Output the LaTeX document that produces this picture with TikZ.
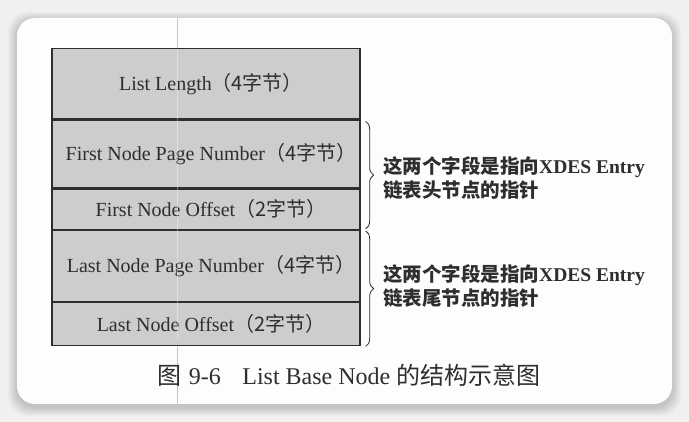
\documentclass[tikz,border=0pt]{standalone}
\usepackage{fontspec}
\setmainfont{Liberation Serif}
\newfontfamily\cjk{Noto Sans CJK SC}
\usetikzlibrary{decorations.pathreplacing}

\definecolor{pagebg}{HTML}{F0F0F0}
\definecolor{cardbg}{HTML}{FDFDFD}
\definecolor{cellfill}{HTML}{CDCDCD}
\definecolor{ink}{HTML}{2E2E2E}

\newcommand{\zh}[1]{{\cjk #1}}

\begin{document}
\begin{tikzpicture}[x=1pt,y=-1pt,
  cell/.style={draw=ink, line width=1.3pt, fill=cellfill, minimum width=308pt,
    anchor=north, inner sep=0pt, text=ink, font=\fontsize{20}{22}\selectfont,
    execute at begin node={\hspace{0.5em}}},
  note/.style={anchor=west, align=left, inner sep=0pt, text=ink,
    font=\bfseries\fontsize{19.5}{24}\selectfont},
  bracket/.style={decorate, decoration={brace, amplitude=8pt}, draw=ink, line width=0.8pt},
  caption/.style={text=ink, inner sep=0pt, font=\fontsize{24}{28}\selectfont},
]
% page and card with a soft shadow
\useasboundingbox (0,0) rectangle (689,422);
\fill[pagebg] (0,0) rectangle (689,422);
\foreach \d in {1,...,9}
  \fill[black, opacity=0.02, rounded corners=20pt]
    (17-\d,18-\d+3) rectangle (672+\d,404+\d+3);
\fill[cardbg, rounded corners=18pt] (17,18) rectangle (672,404);

% faint crease through the page
\draw[black!22, line width=0.8pt] (177,18) -- (177,404);

% the record layout
\node[cell, minimum height=70pt] (len) at (206,48) {List Length\zh{（4字节）}};
\node[cell, minimum height=68pt] (fpage) at (len.south) {First Node Page Number\zh{（4字节）}};
\node[cell, minimum height=40pt] (foff) at (fpage.south) {First Node Offset\zh{（2字节）}};
\node[cell, minimum height=71pt] (lpage) at (foff.south) {Last Node Page Number\zh{（4字节）}};
\node[cell, minimum height=43pt] (loff) at (lpage.south) {Last Node Offset\zh{（2字节）}};

\draw[white, opacity=0.35, line width=0.8pt] (177,49) -- (177,339);

% braces grouping the two pointers
\draw[bracket] ([xshift=5pt,yshift=-2pt]fpage.north east) -- ([xshift=5pt,yshift=1pt]foff.south east);
\draw[bracket] ([xshift=5pt,yshift=-1pt]lpage.north east) -- ([xshift=5pt]loff.south east);

\node[note] (nfirst) at (383,178) {\zh{这两个字段是指向}XDES Entry\\\zh{链表头节点的指针}};
\node[note] (nlast) at (383,286) {\zh{这两个字段是指向}XDES Entry\\\zh{链表尾节点的指针}};

% caption
\node[caption] (cap) at (349,375) {\zh{图}\hspace{0.3em}9-6\hspace{0.9em}List Base Node \zh{的结构示意图}};
\end{tikzpicture}
\end{document}
